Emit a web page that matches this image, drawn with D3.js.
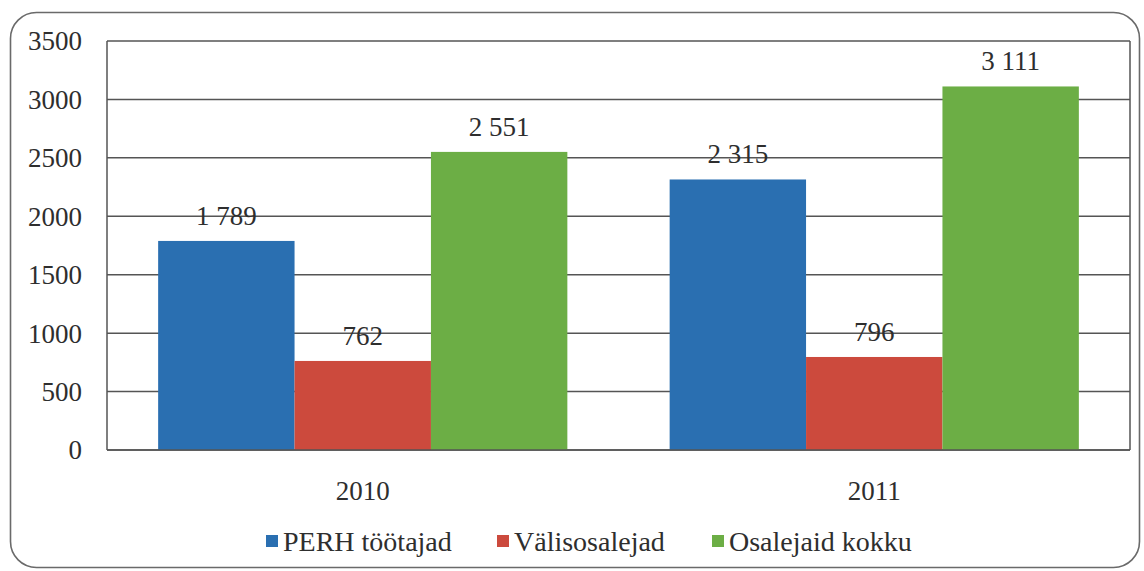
<!DOCTYPE html>
<html>
<head>
<meta charset="utf-8">
<script src="https://cdn.jsdelivr.net/npm/d3@7/dist/d3.min.js"></script>
<style>
  html, body { margin: 0; padding: 0; background: #fff; }
  svg { display: block; }
</style>
</head>
<body>
<svg id="chart" width="1144" height="571"></svg>
<script>
const categories = ["2010", "2011"];
const seriesNames = ["PERH töötajad", "Välisosalejad", "Osalejaid kokku"];
const seriesColors = ["#2a6fb1", "#cc4a3d", "#6cae45"];
const perh = [1789, 2315];
const valis = [762, 796];
const kokku = [2551, 3111];
const valueLabels = [["1 789", "2 315"], ["762", "796"], ["2 551", "3 111"]];
const yTicks = [0, 500, 1000, 1500, 2000, 2500, 3000, 3500];

const seriesValues = [perh, valis, kokku];
const faces = ["Liberation Serif"];
const FONT = `'${faces[0]}', serif`;
const TXT = "#2e2e2e";

const svg = d3.select("#chart").style("font-family", FONT);
const margin = { left: 107, right: 1130, top: 41, bottom: 450 };

// outer rounded frame
svg.append("rect")
  .attr("x", 10.5).attr("y", 12.5)
  .attr("width", 1129).attr("height", 555)
  .attr("rx", 26).attr("ry", 26)
  .attr("fill", "none").attr("stroke", "#6a6a6a").attr("stroke-width", 1.6);

const x0 = d3.scaleBand().domain(categories)
  .range([margin.left, margin.right])
  .paddingInner(0.2).paddingOuter(0.1);
const x1 = d3.scaleBand().domain(d3.range(seriesNames.length))
  .range([0, x0.bandwidth()]).padding(0);
const y = d3.scaleLinear().domain([0, 3500]).range([margin.bottom, margin.top]);

// gridlines
svg.append("g").selectAll("line").data(yTicks).join("line")
  .attr("x1", margin.left).attr("x2", margin.right)
  .attr("y1", d => y(d)).attr("y2", d => y(d))
  .attr("stroke", "#555").attr("stroke-width", 1.5);

// plot frame verticals
svg.append("line").attr("x1", margin.left).attr("x2", margin.left)
  .attr("y1", y(3500)).attr("y2", y(0)).attr("stroke", "#555").attr("stroke-width", 1.5);
svg.append("line").attr("x1", margin.right).attr("x2", margin.right)
  .attr("y1", y(3500)).attr("y2", y(0)).attr("stroke", "#555").attr("stroke-width", 1.5);

// y tick labels
svg.append("g").selectAll("text").data(yTicks).join("text")
  .attr("x", 82).attr("y", d => y(d))
  .attr("dy", "0.35em")
  .attr("text-anchor", "end")
  .attr("font-size", 27)
  .attr("fill", TXT)
  .style("font-family", FONT)
  .text(d => d);

// bars
const groups = svg.append("g").selectAll("g").data(categories).join("g")
  .attr("transform", c => `translate(${x0(c)},0)`);

groups.selectAll("rect").data((c, ci) => seriesValues.map((s, si) => ({ si, v: s[ci] })))
  .join("rect")
  .attr("x", d => x1(d.si))
  .attr("width", x1.bandwidth())
  .attr("y", d => y(d.v))
  .attr("height", d => y(0) - y(d.v))
  .attr("fill", d => seriesColors[d.si]);

// baseline on top
svg.append("line").attr("x1", margin.left).attr("x2", margin.right)
  .attr("y1", y(0)).attr("y2", y(0)).attr("stroke", "#555").attr("stroke-width", 1.5);

// value labels
groups.selectAll("text.val").data((c, ci) => seriesValues.map((s, si) => ({ si, ci, v: s[ci] })))
  .join("text")
  .attr("class", "val")
  .attr("x", d => x1(d.si) + x1.bandwidth() / 2)
  .attr("y", d => y(d.v) - 16)
  .attr("text-anchor", "middle")
  .attr("font-size", 27)
  .attr("fill", TXT)
  .style("font-family", FONT)
  .text(d => valueLabels[d.si][d.ci]);

// category labels
svg.append("g").selectAll("text").data(categories).join("text")
  .attr("x", c => x0(c) + x0.bandwidth() / 2)
  .attr("y", 500)
  .attr("text-anchor", "middle")
  .attr("font-size", 27)
  .attr("fill", TXT)
  .style("font-family", FONT)
  .text(c => c);

// legend
const legendX = [266, 497, 712];
const lg = svg.append("g").selectAll("g").data(seriesNames).join("g")
  .attr("transform", (d, i) => `translate(${legendX[i]},535)`);
lg.append("rect").attr("width", 12).attr("height", 12).attr("fill", (d, i) => seriesColors[i]);
lg.append("text").attr("x", 17).attr("y", 6).attr("dy", "0.35em")
  .attr("font-size", 28)
  .attr("fill", TXT)
  .style("font-family", FONT)
  .text(d => d);
</script>
</body>
</html>
